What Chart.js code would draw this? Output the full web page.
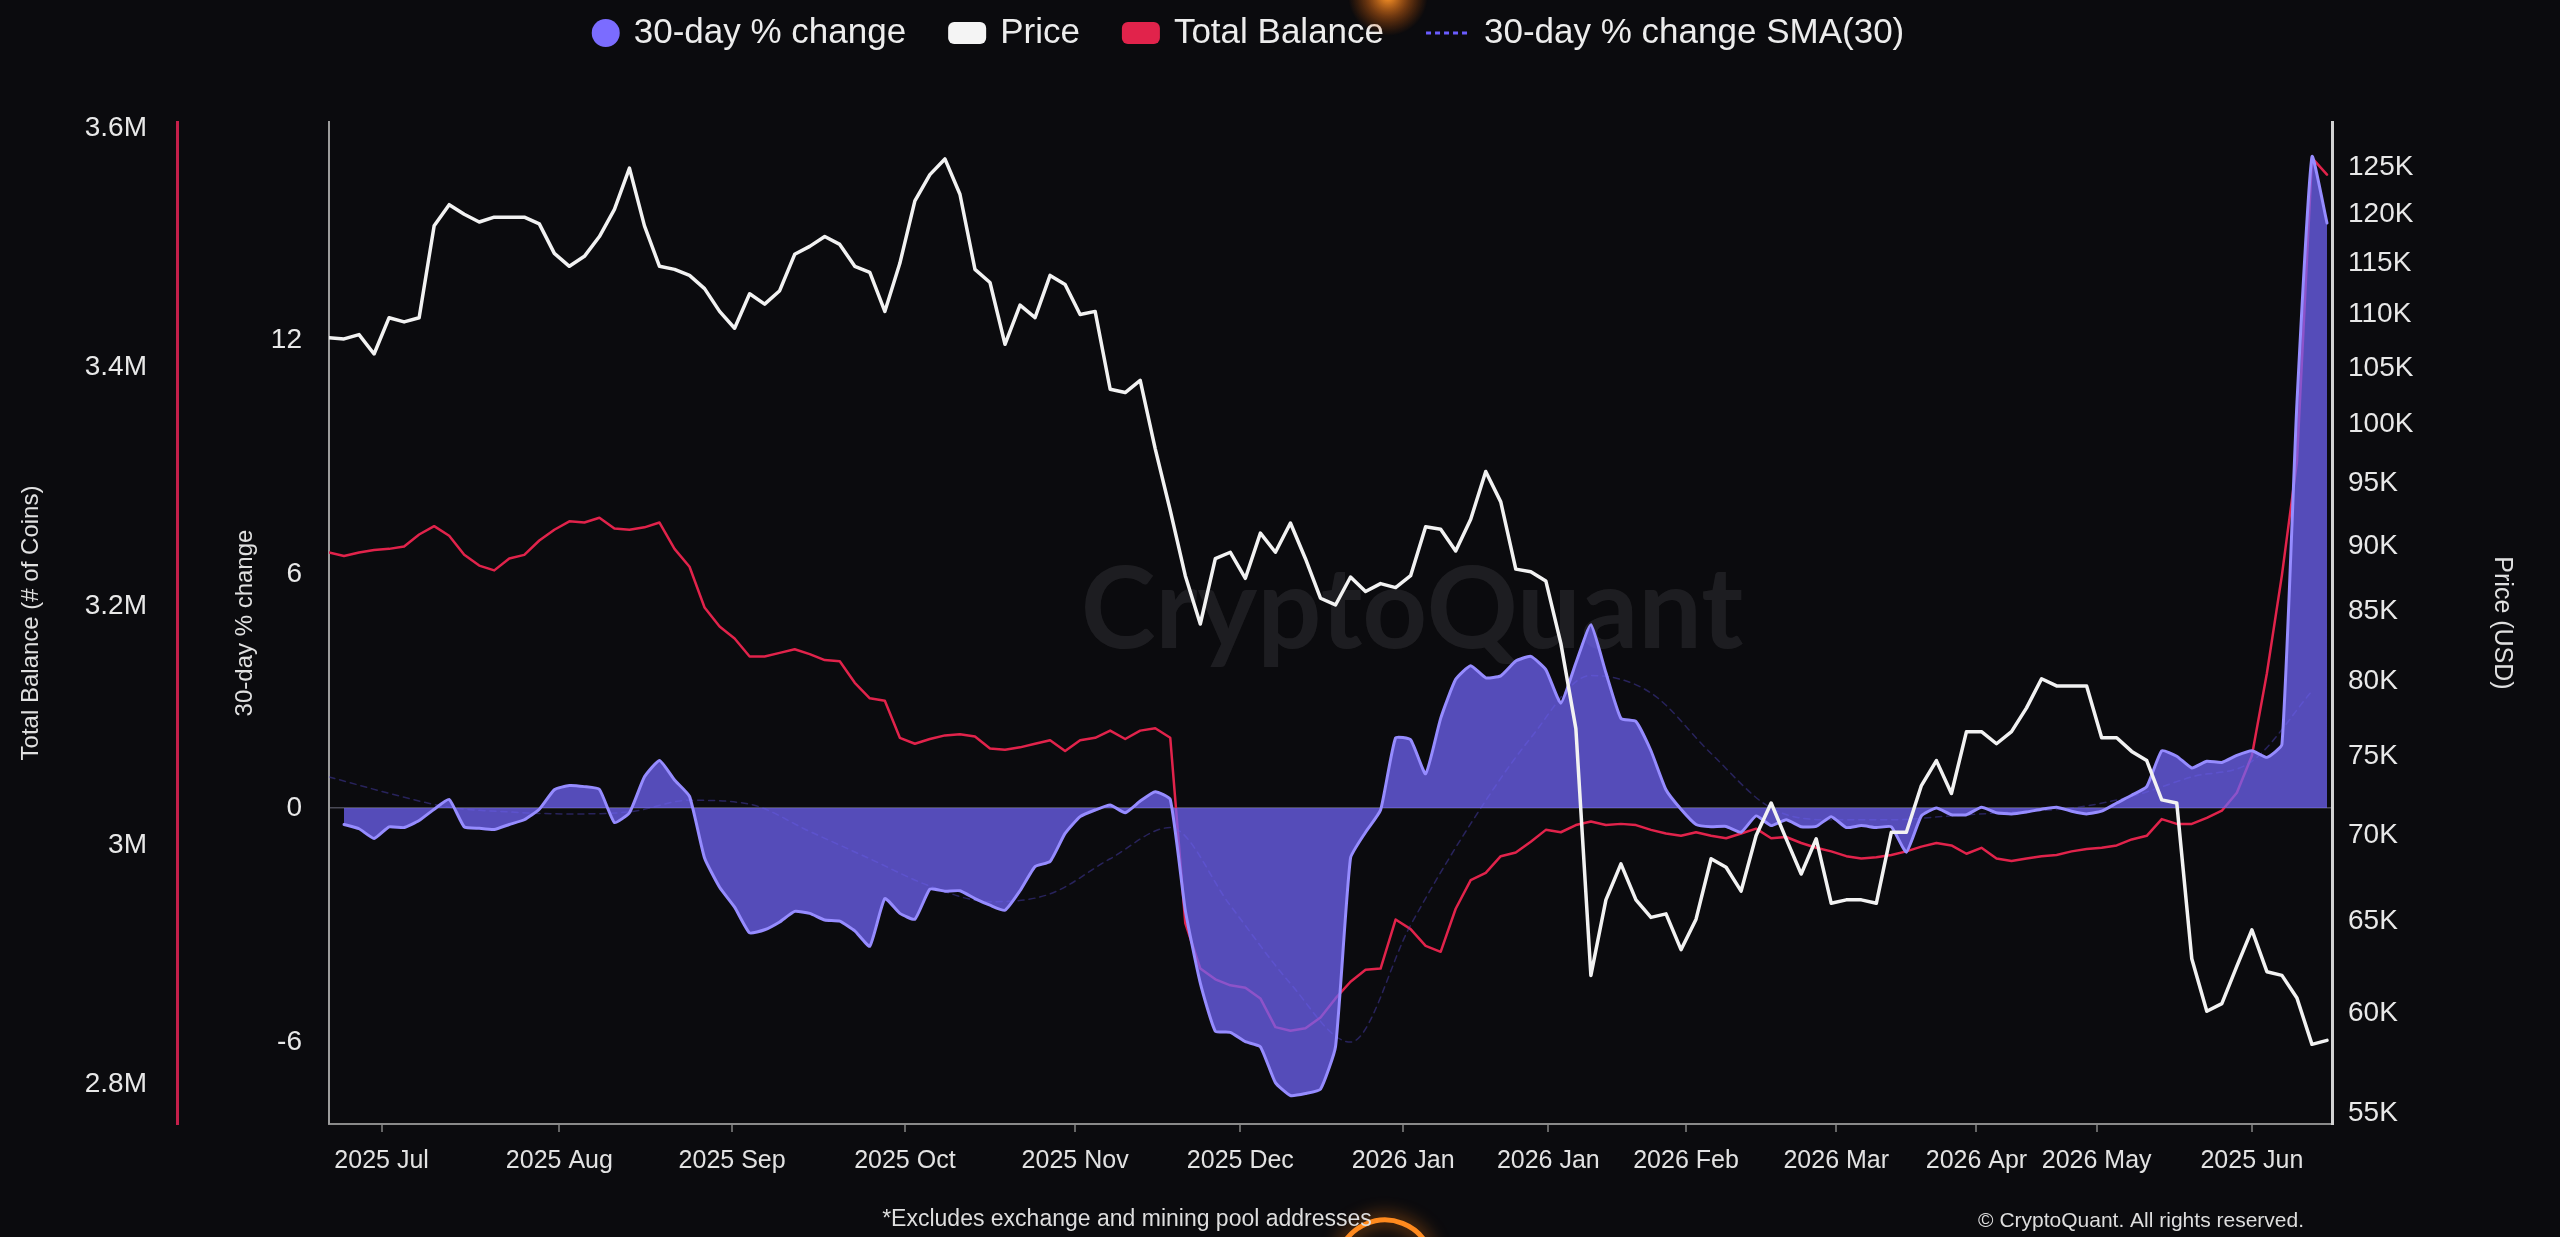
<!DOCTYPE html>
<html>
<head>
<meta charset="utf-8">
<title>Total Balance vs Price</title>
<script src="https://cdn.jsdelivr.net/npm/chart.js@4.4.1/dist/chart.umd.min.js"></script>
<style>
    html, body { margin: 0; padding: 0; width: 2560px; height: 1237px; overflow: hidden; background: #0b0b0e; }
    #wrap { position: relative; width: 2560px; height: 1237px; }
</style>
</head>
<body>
<div id="wrap"><canvas id="balance-chart" width="2560" height="1237"></canvas></div>
<script>
    "use strict";

    // x runs 0..400, one sample every STEP units
    const STEP = 3;
    const SMA_STEP = 12;

    // Price (thousand USD)
    const priceK = [
        107.8, 107.7, 108.1, 106.3, 109.7, 109.3, 109.7, 118.8, 121.0, 120.0,
        119.2, 119.7, 119.7, 119.7, 119.0, 116.0, 114.7, 115.7, 117.7, 120.5,
        124.9, 118.8, 114.7, 114.4, 113.8, 112.5, 110.3, 108.7, 112.0, 111.0,
        112.3, 115.9, 116.7, 117.7, 116.9,
        114.7, 114.1, 110.3, 115.0, 121.4, 124.2, 125.9, 122.1, 114.4, 113.1,
        107.2, 110.9, 109.7, 113.8, 112.9, 110.0, 110.3, 103.1, 102.8, 103.9,
        97.9, 92.8, 87.7, 84.1, 89.0, 89.5, 87.5, 91.0, 89.5, 91.8,
        89.0, 86.0, 85.5,
        87.6, 86.5, 87.1, 86.8, 87.7, 91.5, 91.3, 89.6, 92.1, 96.0,
        93.5, 88.2, 88.0, 87.3, 82.7, 76.8, 62.0, 66.2, 68.3, 66.2,
        65.2, 65.4, 63.4, 65.1, 68.6, 68.1, 66.7, 70.0, 72.0, 69.8,
        67.7, 69.8, 66.0,
        66.2, 66.2, 66.0, 70.2, 70.2, 73.1, 74.7, 72.6, 76.6, 76.6,
        75.8, 76.6, 78.2, 80.2, 79.7, 79.7, 79.7, 76.2, 76.2, 75.3,
        74.7, 72.2, 72.0, 62.9, 60.1, 60.5, 62.5, 64.5, 62.2, 62.0,
        60.8, 58.4, 58.6
    ];

    // Total Balance (million coins)
    const balanceM = [
        3.245, 3.242, 3.245, 3.247, 3.248, 3.250, 3.260, 3.267, 3.259, 3.243,
        3.234, 3.230, 3.240, 3.243, 3.255, 3.264, 3.271, 3.270, 3.274, 3.265,
        3.264, 3.266, 3.270, 3.248, 3.233, 3.199, 3.183, 3.173, 3.158, 3.158,
        3.161, 3.164, 3.160, 3.155, 3.154,
        3.136, 3.123, 3.121, 3.090, 3.085, 3.089, 3.092, 3.093, 3.091, 3.081,
        3.080, 3.082, 3.085, 3.088, 3.079, 3.088, 3.090, 3.096, 3.089, 3.096,
        3.098, 3.090, 2.935, 2.897, 2.888, 2.883, 2.881, 2.872, 2.848, 2.845,
        2.847, 2.856, 2.872,
        2.886, 2.896, 2.897, 2.938, 2.930, 2.916, 2.911, 2.947, 2.971, 2.977,
        2.991, 2.994, 3.003, 3.013, 3.011, 3.017, 3.020, 3.017, 3.018, 3.017,
        3.013, 3.010, 3.008, 3.011, 3.008, 3.006, 3.010, 3.014, 3.006, 3.007,
        3.002, 2.998, 2.995,
        2.991, 2.989, 2.990, 2.992, 2.995, 2.999, 3.002, 3.000, 2.993, 2.998,
        2.989, 2.987, 2.989, 2.991, 2.992, 2.995, 2.997, 2.998, 3.000, 3.005,
        3.008, 3.022, 3.018, 3.018, 3.023, 3.029, 3.044, 3.075, 3.144, 3.226,
        3.321, 3.575, 3.561
    ];

    // 30-day % change
    const pctChange = [
        null, -0.42, -0.53, -0.78, -0.48, -0.50, -0.32, -0.03, 0.22, -0.48,
        -0.52, -0.55, -0.42, -0.30, -0.03, 0.47, 0.58, 0.55, 0.48, -0.37,
        -0.12, 0.80, 1.22, 0.72, 0.30, -1.28, -2.03, -2.54, -3.20, -3.12,
        -2.92, -2.65, -2.70, -2.87, -2.90,
        -3.15, -3.54, -2.32, -2.70, -2.85, -2.08, -2.13, -2.12, -2.32, -2.49,
        -2.62, -2.12, -1.50, -1.37, -0.65, -0.22, -0.05, 0.08, -0.12, 0.18,
        0.42, 0.22, -2.62, -4.49, -5.72, -5.75, -5.99, -6.12, -7.04, -7.37,
        -7.32, -7.21, -6.12,
        -1.28, -0.62, -0.05, 1.80, 1.75, 0.88, 2.30, 3.30, 3.65, 3.34,
        3.39, 3.77, 3.89, 3.55, 2.69, 3.72, 4.70, 3.47, 2.30, 2.22,
        1.47, 0.47, -0.03, -0.42, -0.48, -0.47, -0.62, -0.20, -0.45, -0.30,
        -0.48, -0.47, -0.22,
        -0.50, -0.45, -0.50, -0.48, -1.13, -0.20, 0.00, -0.17, -0.17, 0.02,
        -0.12, -0.15, -0.10, -0.03, 0.02, -0.08, -0.15, -0.08, 0.13, 0.33,
        0.55, 1.47, 1.33, 1.03, 1.20, 1.17, 1.35, 1.47, 1.30, 1.63,
        10.39, 16.70, 15.00
    ];

    // 30-day % change SMA(30)
    const pctSma = [
        0.80, 0.38, 0.02, -0.10, -0.15, -0.10, 0.20, 0.10, -0.60, -1.30,
        -2.00, -2.40, -2.20, -1.30, -0.50, -2.50, -4.50, -6.00, -3.00, -0.40,
        1.80, 3.40, 2.95, 1.40, 0.00, -0.30, -0.30, -0.20, -0.10, 0.00,
        0.30, 0.80, 1.20, 3.00
    ];

    // Axis ticks
    const xTickPos = [10.5, 46, 80.5, 115, 149, 182, 214.5, 243.5, 271, 301, 329, 353, 384];
    const xTickLabels = ["2025 Jul", "2025 Aug", "2025 Sep", "2025 Oct", "2025 Nov", "2025 Dec",
        "2026 Jan", "2026 Jan", "2026 Feb", "2026 Mar", "2026 Apr", "2026 May", "2025 Jun"];
    const balanceTicks = [2.8, 3, 3.2, 3.4, 3.6];
    const pctTicks = [-6, 0, 6, 12];
    const priceTicks = [55, 60, 65, 70, 75, 80, 85, 90, 95, 100, 105, 110, 115, 120, 125];

    const legendShapes = ["circle", "rect", "rect", "dash"];
    const legendColors = ["#7b6cff", "#f4f4f4", "#e1234b", "#6a5cff"];

    const FONT = "'Liberation Sans', Arial, sans-serif";
    Chart.defaults.font.family = FONT;
    Chart.defaults.color = "#e6e6e6";

    const toPoints = (values, step) => values.map((v, i) => ({ x: i * step, y: v }));
    const fixedTicks = list => scale => { scale.ticks = list.map(v => ({ value: v })); };
    const setWidth = w => scale => { scale.width = w; };

    // Legend row across the top
    const topLegend = {
        id: "topLegend",
        afterDraw(chart) {
            const c = chart.ctx;
            const sets = chart.data.datasets;
            const boxW = [28, 38, 38, 44];
            const gapText = 14, gapItem = 42, y = 33;
            c.save();
            c.font = "35px " + FONT;
            c.textBaseline = "middle";
            let total = gapItem * (sets.length - 1);
            sets.forEach((ds, i) => { total += boxW[i] + gapText + c.measureText(ds.label).width; });
            let x = 1248 - total / 2;
            sets.forEach((ds, i) => {
                c.fillStyle = legendColors[i];
                c.strokeStyle = legendColors[i];
                if (legendShapes[i] === "circle") {
                    c.beginPath();
                    c.arc(x + 14, y, 14, 0, Math.PI * 2);
                    c.fill();
                } else if (legendShapes[i] === "rect") {
                    c.beginPath();
                    if (c.roundRect) c.roundRect(x, y - 11, 38, 22, 6); else c.rect(x, y - 11, 38, 22);
                    c.fill();
                } else {
                    c.lineWidth = 3;
                    c.setLineDash([5, 4]);
                    c.beginPath();
                    c.moveTo(x, y);
                    c.lineTo(x + 44, y);
                    c.stroke();
                    c.setLineDash([]);
                }
                x += boxW[i] + gapText;
                c.fillStyle = "#ececec";
                c.fillText(ds.label, x, y);
                x += c.measureText(ds.label).width + gapItem;
            });
            c.restore();
        }
    };

    // Watermark behind the series
    const watermark = {
        id: "watermark",
        beforeDatasetsDraw(chart) {
            const c = chart.ctx;
            c.save();
            c.font = "bold 100px Lato, " + FONT;
            const size = 100 * 663 / c.measureText("CryptoQuant").width;
            c.font = "bold " + size.toFixed(1) + "px Lato, " + FONT;
            c.fillStyle = "rgba(200, 200, 210, 0.10)";
            c.textAlign = "center";
            c.textBaseline = "middle";
            c.fillText("CryptoQuant", 1412, 612);
            c.restore();
        }
    };

    // Footnotes and the orange glows
    const footer = {
        id: "footer",
        afterDraw(chart) {
            const c = chart.ctx;
            c.save();
            const g = c.createRadialGradient(1388, -4, 2, 1388, -4, 40);
            g.addColorStop(0, "rgba(255, 150, 40, 0.95)");
            g.addColorStop(0.5, "rgba(230, 110, 20, 0.45)");
            g.addColorStop(1, "rgba(200, 80, 0, 0)");
            c.fillStyle = g;
            c.fillRect(1340, 0, 100, 45);

            c.strokeStyle = "#ff8a1e";
            c.lineWidth = 5;
            c.shadowColor = "rgba(255, 130, 20, 0.9)";
            c.shadowBlur = 18;
            c.beginPath();
            c.arc(1385, 1268, 48, Math.PI * 1.12, Math.PI * 1.88);
            c.stroke();
            c.shadowBlur = 0;

            c.fillStyle = "#dedede";
            c.textBaseline = "middle";
            c.font = "23px " + FONT;
            c.textAlign = "center";
            c.fillText("*Excludes exchange and mining pool addresses", 1127, 1220);
            c.font = "21px " + FONT;
            c.textAlign = "right";
            c.fillText("\u00A9 CryptoQuant. All rights reserved.", 2304, 1221);
            c.restore();
        }
    };

    const chart = new Chart(document.getElementById("balance-chart").getContext("2d"), {
        type: "line",
        data: {
            datasets: [
                {
                    label: "30-day % change",
                    data: toPoints(pctChange, STEP),
                    yAxisID: "yPct",
                    borderColor: "#968cff",
                    borderWidth: 3,
                    backgroundColor: "rgba(112, 100, 245, 0.74)",
                    fill: "origin",
                    tension: 0.15,
                    order: 1
                },
                {
                    label: "Price",
                    data: toPoints(priceK, STEP),
                    yAxisID: "yPrice",
                    borderColor: "#f2f2f2",
                    borderWidth: 3.5,
                    fill: false,
                    order: 0
                },
                {
                    label: "Total Balance",
                    data: toPoints(balanceM, STEP),
                    yAxisID: "yBal",
                    borderColor: "#e1234b",
                    borderWidth: 2.5,
                    fill: false,
                    order: 3
                },
                {
                    label: "30-day % change SMA(30)",
                    data: toPoints(pctSma, SMA_STEP),
                    yAxisID: "yPct",
                    borderColor: "rgba(80, 70, 200, 0.42)",
                    borderWidth: 1.5,
                    borderDash: [6, 5],
                    cubicInterpolationMode: "monotone",
                    fill: false,
                    order: 2
                }
            ]
        },
        options: {
            responsive: false,
            animation: false,
            events: [],
            layout: { padding: { top: 122, left: 0, right: 0, bottom: 0 } },
            elements: {
                point: { radius: 0 },
                line: { borderJoinStyle: "round", borderCapStyle: "round" }
            },
            plugins: {
                legend: { display: false },
                tooltip: { enabled: false }
            },
            scales: {
                x: {
                    type: "linear",
                    min: 0,
                    max: 400,
                    afterBuildTicks: fixedTicks(xTickPos),
                    afterFit: scale => { scale.height = 113; },
                    ticks: {
                        autoSkip: false,
                        maxRotation: 0,
                        padding: 14,
                        color: "#e2e2e2",
                        font: { size: 25 },
                        callback: (v, i) => xTickLabels[i]
                    },
                    grid: { drawOnChartArea: false, drawTicks: true, tickLength: 8, color: "#666", lineWidth: 2 },
                    border: { color: "#8a8a8a", width: 2 }
                },
                yBal: {
                    type: "linear",
                    position: "left",
                    weight: 2,
                    min: 2.767,
                    max: 3.605,
                    afterBuildTicks: fixedTicks(balanceTicks),
                    afterFit: setWidth(177),
                    ticks: { padding: 30, font: { size: 28 }, color: "#e8e8e8", callback: v => v + "M" },
                    grid: { display: false, drawTicks: false },
                    border: { color: "#c51f4a", width: 3 },
                    title: {
                        display: true,
                        text: "Total Balance (# of Coins)",
                        color: "#e0e0e0",
                        font: { size: 24 },
                        padding: { top: 17, bottom: 0 }
                    }
                },
                yPct: {
                    type: "linear",
                    position: "left",
                    weight: 1,
                    min: -8.10,
                    max: 17.59,
                    afterBuildTicks: fixedTicks(pctTicks),
                    afterFit: setWidth(152),
                    ticks: { padding: 27, font: { size: 28 }, color: "#e8e8e8" },
                    grid: {
                        drawTicks: false,
                        lineWidth: 1.5,
                        color: c => (c.tick && c.tick.value === 0 ? "rgba(150, 150, 175, 0.45)" : "transparent")
                    },
                    border: { color: "#9c9c9c", width: 2 },
                    title: {
                        display: true,
                        text: "30-day % change",
                        color: "#e0e0e0",
                        font: { size: 24 },
                        padding: { top: 54, bottom: 0 }
                    }
                },
                yPrice: {
                    type: "logarithmic",
                    position: "right",
                    min: 54.5,
                    max: 130,
                    afterBuildTicks: fixedTicks(priceTicks),
                    afterFit: setWidth(228),
                    ticks: { padding: 16, font: { size: 28 }, color: "#e8e8e8", autoSkip: false, callback: v => v + "K" },
                    grid: { display: false, drawTicks: false },
                    border: { color: "#d2d2d2", width: 3 },
                    title: {
                        display: true,
                        text: "Price (USD)",
                        color: "#e0e0e0",
                        font: { size: 25 },
                        padding: { top: 43, bottom: 0 }
                    }
                }
            }
        },
        plugins: [watermark, topLegend, footer]
    });
</script>
</body>
</html>
